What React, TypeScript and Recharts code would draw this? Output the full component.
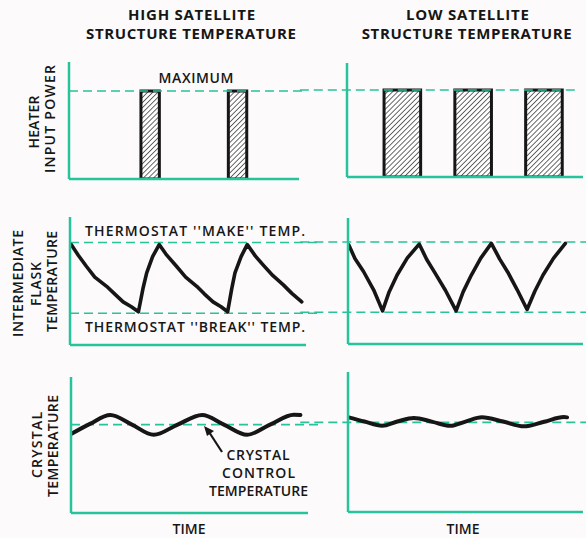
import { ComposedChart, Bar, Line, XAxis, YAxis, ReferenceLine } from 'recharts';

const W = 586;
const H = 538;
const GREEN = '#27c39b';
const INK = '#161616';
const BG = '#fcfafb';
const FONT = '"Open Sans", "DejaVu Sans", sans-serif';

// heater on-periods (time units 0..100), power relative to maximum
const HIGH_HEATER_T = [35.5, 73.5];
const HIGH_HEATER_POWER = [1, 1];
const HIGH_HEATER_ON = 8;
const LOW_HEATER_T = [23.5, 53.5, 83.5];
const LOW_HEATER_POWER = [1, 1, 1];
const LOW_HEATER_ON = 15.5;
const MAX_POWER = 1;

// intermediate flask temperature (break = 0, make = 10)
const BREAK_TEMP = 0;
const MAKE_TEMP = 10;
const HIGH_FLASK_T = [0.5, 3.5, 7, 10.5, 15.5, 19, 22.5, 26, 29, 31, 32.5, 35, 37.8, 41, 45.2, 49, 53.7, 57, 60.6, 64, 66.8, 68.5, 69.9, 72.5, 75.1, 78.5, 81.9, 86, 90.4, 94, 98.2];
const HIGH_FLASK_TEMP = [9.7, 8.2, 6.6, 5.1, 3.8, 2.7, 1.6, 0.9, 0.2, 3.6, 5.7, 8.0, 9.7, 8.2, 6.6, 5.1, 3.8, 2.7, 1.6, 0.9, 0.2, 3.4, 5.7, 8.0, 9.7, 8.1, 6.8, 5.3, 4.0, 2.8, 1.6];
const LOW_FLASK_T = [0.3, 3, 6.6, 10.9, 14.7, 17.5, 20.9, 25.2, 30.3, 33.5, 37, 41.5, 46, 49, 52.5, 56.5, 61, 64.5, 68, 72, 76.2, 79.5, 83, 87.5, 92.5];
const LOW_FLASK_TEMP = [9.6, 7.6, 5.8, 3.2, 0.2, 2.9, 5.3, 7.7, 9.7, 7.5, 5.6, 3.1, 0.2, 2.9, 5.3, 7.7, 9.8, 7.6, 5.7, 3.2, 0.4, 3.0, 5.3, 7.7, 9.8];

// crystal temperature
const HIGH_CONTROL = 65;
const HIGH_CRYSTAL_T = [0, 8, 16.6, 25.7, 34.9, 45, 55.3, 64.5, 74.3, 84, 94, 96.8];
const HIGH_CRYSTAL_TEMP = [58, 65.5, 72, 65, 57.5, 65, 72, 65, 57.5, 65, 72.3, 72];
const LOW_CONTROL = 64;
const LOW_CRYSTAL_T = [0.3, 7, 14.5, 21, 28, 36, 43.5, 50, 57, 66, 74.8, 83.5, 91.9, 93.2];
const LOW_CRYSTAL_TEMP = [67.6, 64.6, 61.6, 64.6, 67.2, 64.4, 61.6, 64.6, 67.6, 64.6, 61.2, 64.5, 67.8, 67.6];

const rows = (t: number[], v: number[], key: string) => t.map((x, i) => ({ t: x, [key]: v[i] }));

const highHeater = rows(HIGH_HEATER_T, HIGH_HEATER_POWER, 'power');
const lowHeater = rows(LOW_HEATER_T, LOW_HEATER_POWER, 'power');
const highFlask = rows(HIGH_FLASK_T, HIGH_FLASK_TEMP, 'temp');
const lowFlask = rows(LOW_FLASK_T, LOW_FLASK_TEMP, 'temp');
const highCrystal = rows(HIGH_CRYSTAL_T, HIGH_CRYSTAL_TEMP, 'temp');
const lowCrystal = rows(LOW_CRYSTAL_T, LOW_CRYSTAL_TEMP, 'temp');

const chartStyle = { position: 'absolute' as const, left: 0, top: 0 };

// plot box in page pixels -> chart margin (axes take 1px each)
function box(left: number, right: number, top: number, bottom: number) {
  return { left: left - 1, right: W - right, top, bottom: H - bottom - 1 };
}

function axes(yDomain: [number, number]) {
  return [
    <XAxis key="x" dataKey="t" type="number" domain={[0, 100]} allowDataOverflow tick={false} tickLine={false} height={1}
      axisLine={{ stroke: GREEN, strokeWidth: 2.5 }} />,
    <YAxis key="y" type="number" domain={yDomain} allowDataOverflow tick={false} tickLine={false} width={1}
      axisLine={{ stroke: GREEN, strokeWidth: 2.5 }} />,
  ];
}

function dashed(y: number, from: number, to: number) {
  return (
    <ReferenceLine key={`d${y}`} segment={[{ x: from, y }, { x: to, y }]} ifOverflow="visible"
      stroke={GREEN} strokeWidth={1.6} strokeDasharray="9 5" />
  );
}

function hatch(id: string) {
  return (
    <defs key="defs">
      <pattern id={id} patternUnits="userSpaceOnUse" width={3.6} height={3.6} patternTransform="rotate(45)">
        <rect width={3.6} height={3.6} fill="#ffffff" />
        <line x1={0} y1={0} x2={0} y2={3.6} stroke={INK} strokeWidth={1.3} />
      </pattern>
    </defs>
  );
}

const txt = { fontFamily: FONT, fill: INK, fontSize: 14, fontWeight: 600 };
const bold = { ...txt, fontSize: 15, fontWeight: 700 };

function VLabel({ x, y, len, children }: { x: number; y: number; len: number; children: string }) {
  // x, y: centre of the glyphs; rotated so the text reads bottom to top
  const bx = x + 5;
  return (
    <text x={bx} y={y} transform={`rotate(-90 ${bx} ${y})`} textAnchor="middle" textLength={len}
      lengthAdjust="spacing" style={txt}>
      {children}
    </text>
  );
}

function Label({ x, y, len, children, b }: { x: number; y: number; len: number; children: string; b?: boolean }) {
  return (
    <text x={x} y={y} textAnchor="middle" textLength={len} lengthAdjust="spacing" style={b ? bold : txt}>
      {children}
    </text>
  );
}

export default function App() {
  return (
    <div style={{ position: 'absolute', left: 0, top: 0, width: W, height: H, background: BG, overflow: 'hidden' }}>
      {/* heater input power */}
      <ComposedChart style={chartStyle} width={W} height={H} data={highHeater} margin={box(69, 299, 62, 179)}>
        {hatch('hatchHigh')}
        {axes([0, 1.33])}
        {dashed(MAX_POWER, 0, 103)}
        <Bar dataKey="power" fill="url(#hatchHigh)" stroke={INK} strokeWidth={3}
          barSize={(HIGH_HEATER_ON * 230) / 100} isAnimationActive={false} />
      </ComposedChart>
      <ComposedChart style={chartStyle} width={W} height={H} data={lowHeater} margin={box(347, 583, 63, 177)}>
        {hatch('hatchLow')}
        {axes([0, 1.31])}
        {dashed(MAX_POWER, -20, 97.5)}
        <Bar dataKey="power" fill="url(#hatchLow)" stroke={INK} strokeWidth={3}
          barSize={(LOW_HEATER_ON * 236) / 100} isAnimationActive={false} />
      </ComposedChart>

      {/* intermediate flask temperature */}
      <ComposedChart style={chartStyle} width={W} height={H} data={highFlask} margin={box(70, 306, 217, 345)}>
        {axes([-4.5, 13.6])}
        {dashed(MAKE_TEMP, 0, 106)}
        {dashed(BREAK_TEMP, 0, 106)}
        <Line dataKey="temp" type="linear" stroke={INK} strokeWidth={3.6} strokeLinejoin="round" strokeLinecap="round"
          dot={false} isAnimationActive={false} />
      </ComposedChart>
      <ComposedChart style={chartStyle} width={W} height={H} data={lowFlask} margin={box(348, 583, 218, 344)}>
        {axes([-4.5, 13.4])}
        {dashed(MAKE_TEMP, -20.3, 101.4)}
        {dashed(BREAK_TEMP, -20.3, 101.4)}
        <Line dataKey="temp" type="linear" stroke={INK} strokeWidth={3.6} strokeLinejoin="round" strokeLinecap="round"
          dot={false} isAnimationActive={false} />
      </ComposedChart>

      {/* crystal temperature */}
      <ComposedChart style={chartStyle} width={W} height={H} data={highCrystal} margin={box(71, 308, 377, 513)}>
        {axes([0, 100])}
        {dashed(HIGH_CONTROL, 0, 105)}
        <Line dataKey="temp" type="monotone" stroke={INK} strokeWidth={4} strokeLinecap="round"
          dot={false} isAnimationActive={false} />
      </ComposedChart>
      <ComposedChart style={chartStyle} width={W} height={H} data={lowCrystal} margin={box(348, 583, 372, 512)}>
        {axes([0, 100])}
        {dashed(LOW_CONTROL, -20.3, 101.4)}
        <Line dataKey="temp" type="monotone" stroke={INK} strokeWidth={4} strokeLinecap="round"
          dot={false} isAnimationActive={false} />
      </ComposedChart>

      <svg width={W} height={H} style={{ position: 'absolute', left: 0, top: 0, pointerEvents: 'none' }}>
        <Label x={191.6} y={20} len={127} b>HIGH SATELLITE</Label>
        <Label x={191} y={39} len={210} b>STRUCTURE TEMPERATURE</Label>
        <Label x={467.5} y={20} len={123} b>LOW SATELLITE</Label>
        <Label x={466.7} y={39} len={210} b>STRUCTURE TEMPERATURE</Label>

        <Label x={196} y={83} len={75}>MAXIMUM</Label>
        <Label x={195} y={236} len={220}>THERMOSTAT ''MAKE'' TEMP.</Label>
        <Label x={195} y={332} len={220}>THERMOSTAT ''BREAK'' TEMP.</Label>

        <Label x={258} y={460} len={63}>CRYSTAL</Label>
        <Label x={258.5} y={478} len={73}>CONTROL</Label>
        <Label x={258.5} y={496} len={99}>TEMPERATURE</Label>
        <line x1={222} y1={452} x2={209} y2={432} stroke={INK} strokeWidth={2.2} />
        <polygon points="204,426 214,431 207,436" fill={INK} />

        <Label x={189} y={534} len={33}>TIME</Label>
        <Label x={463} y={534} len={33}>TIME</Label>

        <VLabel x={34} y={122} len={53}>HEATER</VLabel>
        <VLabel x={50} y={119} len={108}>INPUT POWER</VLabel>
        <VLabel x={17.5} y={283.5} len={107}>INTERMEDIATE</VLabel>
        <VLabel x={35.5} y={284} len={44}>FLASK</VLabel>
        <VLabel x={52} y={281.5} len={101}>TEMPERATURE</VLabel>
        <VLabel x={37} y={445} len={66}>CRYSTAL</VLabel>
        <VLabel x={53} y={446} len={102}>TEMPERATURE</VLabel>
      </svg>
    </div>
  );
}
